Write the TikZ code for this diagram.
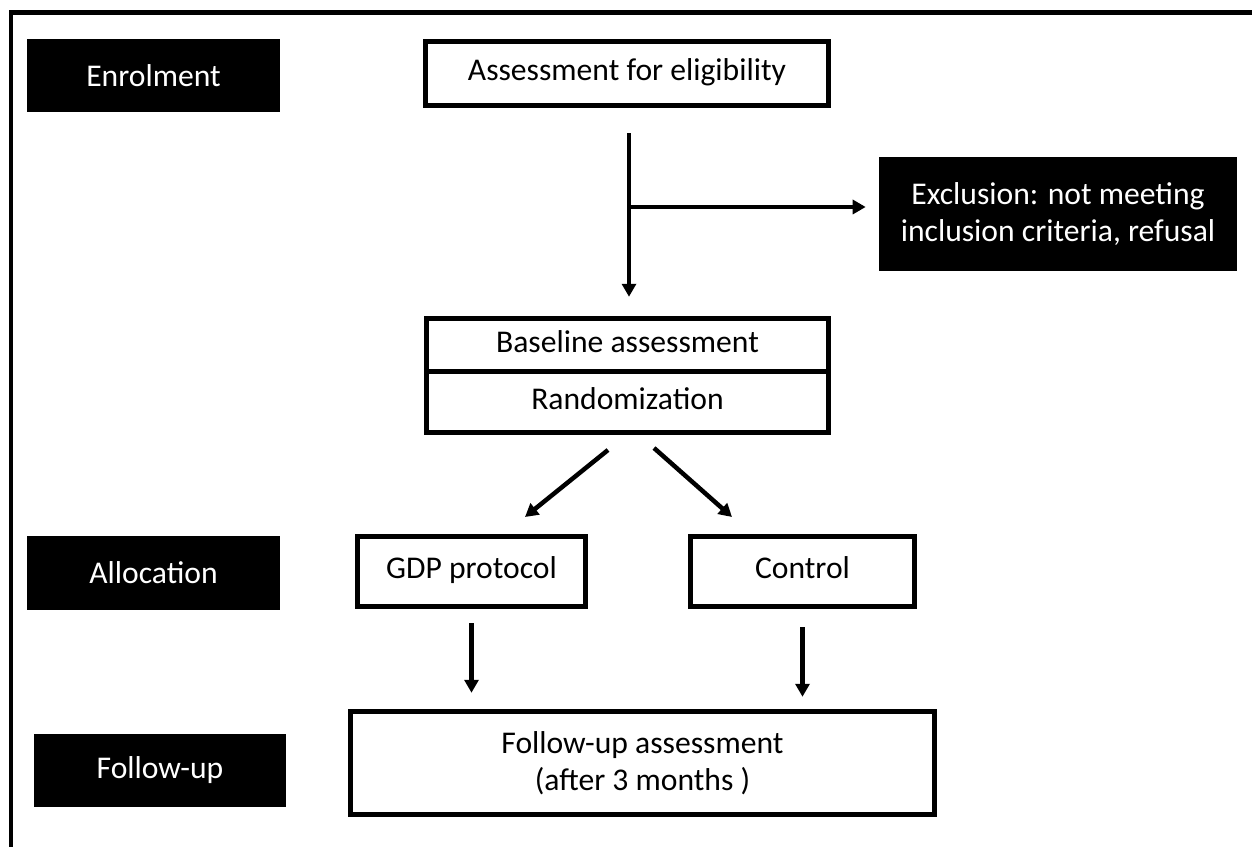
\documentclass[tikz,border=0pt]{standalone}
\usepackage{fontspec}
\setmainfont{Carlito}
\usetikzlibrary{arrows.meta}
\begin{document}
\begin{tikzpicture}[x=0.02cm,y=-0.02cm,
  box/.style={draw,line width=0.11cm,fill=white,inner sep=0pt,align=center,font=\fontsize{18}{21}\selectfont},
  cell/.style={box,execute at begin node=\strut},
  stage/.style={fill=black,text=white,inner sep=0pt,align=center,font=\fontsize{18}{21}\selectfont},
  arr/.style={line width=0.09cm,-{Triangle[length=0.26cm,width=0.28cm]}}]
\useasboundingbox (0,0) rectangle (1252,847);
\draw[line width=0.09cm] (11,847)--(11,12.5)--(1252,12.5);
\node[stage,minimum width=5.06cm,minimum height=1.46cm] (enrol) at (153.5,75.5) {Enrolment};
\node[stage,minimum width=5.06cm,minimum height=1.48cm] (alloc) at (153.5,573) {Allocation};
\node[stage,minimum width=5.04cm,minimum height=1.46cm] (follow) at (160,770.5) {Follow-up};
\node[stage,minimum width=7.16cm,minimum height=2.28cm] (excl) at (1058,214) {Exclusion: not meeting\\inclusion criteria, refusal};
\node[cell,minimum width=8.06cm,minimum height=1.28cm] (assess) at (627,73.5) {Assessment for eligibility};
\node[cell,minimum width=8.04cm,minimum height=1.06cm] (base) at (627.5,345) {Baseline assessment};
\node[cell,minimum width=8.04cm,minimum height=1.22cm] (rand) at (627.5,402) {Randomization};
\node[cell,minimum width=4.56cm,minimum height=1.4cm] (gdp) at (471.5,571.5) {GDP protocol};
\node[cell,minimum width=4.48cm,minimum height=1.4cm] (ctrl) at (802.5,571.5) {Control};
\node[box,minimum width=11.68cm,minimum height=2.06cm] (fu) at (642.5,763) {Follow-up assessment\\(after 3 months )};
\coordinate (split) at (629,207);
\draw[arr,shorten <=0.5cm,shorten >=0.38cm] (assess.south -| split)--(base.north -| split);
\draw[arr,shorten >=0.26cm] (split)--(excl.west |- split);
\coordinate (l1) at (608,450);
\coordinate (l2) at (525,517);
\coordinate (r1) at (654,448);
\coordinate (r2) at (732,517);
\draw[arr] (l1)--(l2);
\draw[arr] (r1)--(r2);
\draw[arr,shorten <=0.28cm,shorten >=0.32cm] (gdp.south)--(gdp.south |- fu.north);
\draw[arr,shorten <=0.36cm,shorten >=0.24cm] (ctrl.south)--(ctrl.south |- fu.north);
\end{tikzpicture}
\end{document}
